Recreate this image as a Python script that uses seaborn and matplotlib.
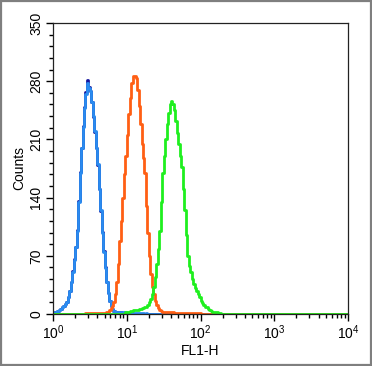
import numpy as np
import pandas as pd
import matplotlib
matplotlib.use("Agg")
import matplotlib.pyplot as plt
import seaborn as sns
from matplotlib.ticker import MultipleLocator, LogLocator, NullFormatter
from matplotlib.patches import Rectangle

# channel grid: bin centres in decades (0.02 decade bins over 10^0..10^4)
bin_log = np.round(np.arange(0.01, 4.0, 0.02), 2)

# counts per bin; each list starts at the given decade, everything else is 0
control_start = 0.01
control_counts = [2, 3, 2, 4, 5, 6, 8, 10, 12, 15, 20, 28, 38, 52, 66, 81, 101,
                  136, 171, 200, 226, 249, 267, 282, 273, 268, 255, 237, 219,
                  200, 179, 150, 124, 99, 76, 56, 39, 25, 16, 10, 6, 4, 3,
                  2, 2, 2, 2, 1, 1, 1, 1, 1]
blue_start = 0.01
blue_counts = [2, 3, 2, 4, 5, 6, 8, 10, 12, 15, 20, 28, 38, 50, 65, 80, 100,
               135, 170, 200, 225, 248, 265, 278, 272, 268, 255, 238, 220,
               200, 180, 150, 125, 98, 75, 55, 38, 25, 16, 10, 6, 4, 3,
               2, 2, 2, 2, 2, 1, 2, 1, 1, 1, 1, 1, 1, 1, 1, 1, 1, 1, 1, 0, 1]
orange_start = 0.45
orange_counts = [1, 1, 1, 1, 1, 1, 1, 1, 1, 1, 1, 1, 1, 1, 2, 3, 5, 7, 10, 15,
                 24, 38, 60, 88, 112, 140, 168, 190, 215, 240, 260, 278, 286,
                 286, 284, 270, 250, 228, 205, 188, 170, 130, 97, 70, 48, 32,
                 24, 16, 11, 7, 5, 4, 3, 3, 2, 2, 2, 2, 2, 2, 1, 1, 1, 1, 1,
                 1, 1, 1, 1, 1, 1, 1, 1, 1, 1, 1, 1, 1]
green_start = 0.99
green_counts = [2, 3, 3, 4, 4, 5, 5, 5, 5, 6, 6, 7, 7, 8, 9, 11, 14, 18, 24,
                32, 44, 60, 78, 100, 135, 170, 190, 210, 228, 242, 252, 256,
                252, 245, 232, 218, 205, 190, 177, 150, 125, 95, 70, 58, 50,
                42, 36, 31, 28, 24, 20, 16, 13, 11, 9, 8, 6, 5, 4, 3, 3, 2, 2,
                1, 1]

series = [("control", control_start, control_counts, "#14149c"),
          ("blue", blue_start, blue_counts, "#2a8cf0"),
          ("orange", orange_start, orange_counts, "#ff5f14"),
          ("green", green_start, green_counts, "#1fef1f")]


def full(start, counts):
    out = np.zeros(len(bin_log))
    i0 = int(np.argmin(np.abs(bin_log - start)))
    out[i0:i0 + len(counts)] = counts
    return out


df = pd.DataFrame({"x": 10 ** bin_log})
for name, start, counts, _ in series:
    df[name] = full(start, counts)

plt.rcParams["font.family"] = ["Liberation Sans", "DejaVu Sans"]
plt.rcParams["mathtext.fontset"] = "custom"
plt.rcParams["mathtext.rm"] = "Liberation Sans"

fig = plt.figure(figsize=(3.72, 3.66), dpi=100)
ax = fig.add_axes([53 / 372, 52 / 366, 295 / 372, 291 / 366])

for name, _, _, color in series:
    sns.lineplot(data=df, x="x", y=name, ax=ax, color=color, lw=2.0,
                 drawstyle="steps-mid")

ax.set_xscale("log")
ax.set_xlim(1, 1e4)
ax.set_ylim(0, 350)
ax.xaxis.set_major_locator(LogLocator(base=10, numticks=10))
ax.xaxis.set_minor_locator(LogLocator(base=10, subs=np.arange(2, 10), numticks=50))
ax.xaxis.set_minor_formatter(NullFormatter())
ax.yaxis.set_major_locator(MultipleLocator(70))
ax.yaxis.set_minor_locator(MultipleLocator(14))

ax.tick_params(which="major", direction="out", length=5, width=1, labelsize=10,
               pad=2)
ax.tick_params(which="minor", direction="out", length=3, width=1)
for lab in ax.get_yticklabels():
    lab.set_rotation(90)
    lab.set_va("center")
for sp in ax.spines.values():
    sp.set_linewidth(0.9)
    sp.set_color("#222222")

ax.set_xlabel("FL1-H", fontsize=10, labelpad=1)
ax.set_ylabel("Counts", fontsize=10, labelpad=2)

fig.add_artist(Rectangle((0.003, 0.003), 0.994, 0.994, transform=fig.transFigure,
                         fill=False, edgecolor="#7f7f7f", lw=1.6))

fig.savefig("out.png", dpi=100)
